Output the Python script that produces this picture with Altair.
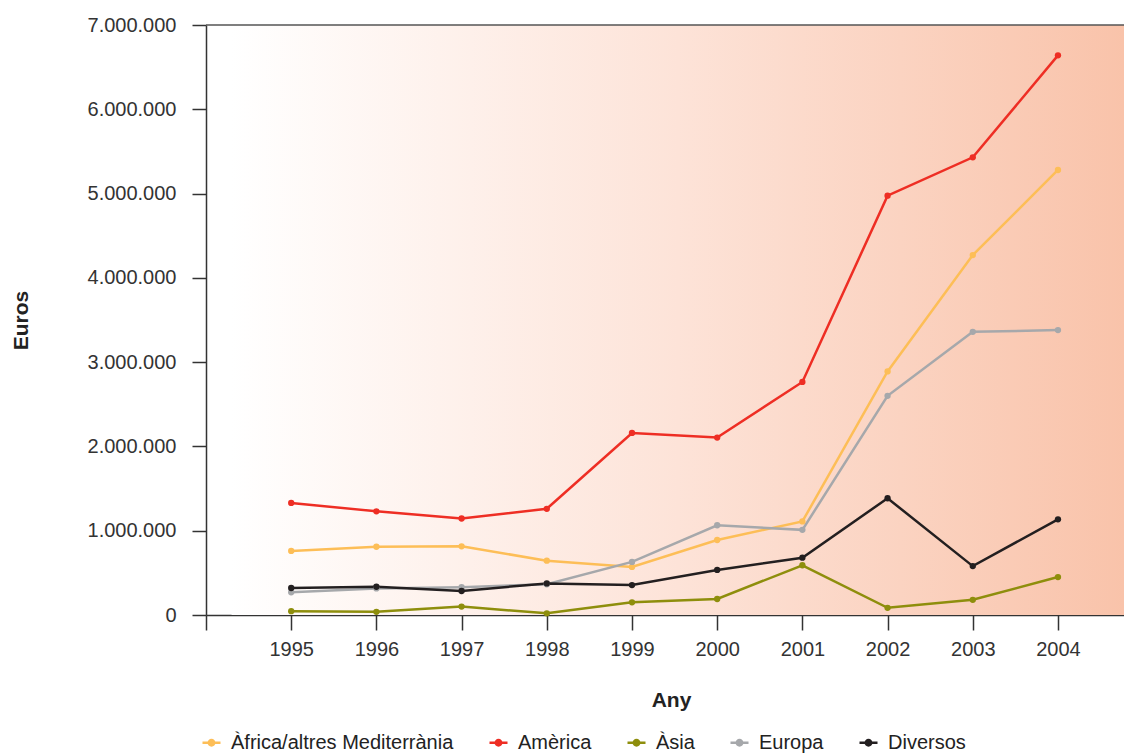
import altair as alt
import pandas as pd

years = [1995, 1996, 1997, 1998, 1999, 2000, 2001, 2002, 2003, 2004]
series = ["Àfrica/altres Mediterrània", "Amèrica", "Àsia", "Europa", "Diversos"]
colors = ["#FDBE57", "#EE2E24", "#8E8E0C", "#A6A8AB", "#231F20"]

africa = [760000, 810000, 815000, 645000, 570000, 890000, 1110000, 2890000, 4270000, 5280000]
america = [1330000, 1230000, 1145000, 1260000, 2160000, 2105000, 2765000, 4975000, 5430000, 6640000]
asia = [45000, 38000, 100000, 20000, 150000, 190000, 590000, 85000, 180000, 450000]
europa = [270000, 315000, 330000, 365000, 630000, 1065000, 1010000, 2600000, 3360000, 3380000]
diversos = [320000, 335000, 285000, 375000, 355000, 535000, 680000, 1385000, 580000, 1135000]

values = [africa, america, asia, europa, diversos]
rows = []
for name, vals in zip(series, values):
    for y, v in zip(years, vals):
        rows.append({"year": y, "value": v, "series": name})
df = pd.DataFrame(rows)

x_ticks = [1994] + years
y_ticks = [0, 1000000, 2000000, 3000000, 4000000, 5000000, 6000000, 7000000]
x_domain = [1994, 2004.775]
y_domain = [0, 7000000]

W, H = 918, 590
FONT = "Liberation Sans"

xscale = alt.Scale(domain=x_domain, nice=False, zero=False)
yscale = alt.Scale(domain=y_domain, nice=False)

xaxis = alt.Axis(
    title="Any", values=x_ticks, format="d",
    labelExpr="datum.value == 1994 ? '' : datum.label",
    tickSize=15, labelPadding=9, titlePadding=30, titleX=465, grid=False,
)
yaxis = alt.Axis(
    title="Euros", values=y_ticks, tickSize=14, labelPadding=16, titlePadding=56, grid=False,
    labelExpr="replace(replace(format(datum.value, ','), ',', '.'), ',', '.')",
)

bg_df = pd.DataFrame({"x0": [1994.3], "x1": [x_domain[1]], "y0": [0], "y1": [7000000]})
bg = alt.Chart(bg_df).mark_rect(
    color=alt.Gradient(
        gradient="linear",
        stops=[
            alt.GradientStop(color="#FFFFFF", offset=0),
            alt.GradientStop(color="#FDE3D8", offset=0.5),
            alt.GradientStop(color="#F9C3AA", offset=1),
        ],
        x1=0, x2=1, y1=0, y2=0,
    )
).encode(
    x=alt.X("x0:Q", scale=xscale, axis=xaxis),
    x2="x1:Q",
    y=alt.Y("y0:Q", scale=yscale, axis=yaxis),
    y2="y1:Q",
)

top_rule = alt.Chart(bg_df).mark_rule(color="#555555", strokeWidth=1.5).encode(
    y=alt.Y("y1:Q", scale=yscale, axis=yaxis),
    x=alt.value(0),
    x2=alt.value(W),
)

legend = alt.Legend(
    title=None, orient="none", direction="horizontal", columns=5,
    legendX=-5, legendY=707,
    symbolType="M-1,0H1M-0.3,0A0.3,0.3,0,1,1,0.3,0A0.3,0.3,0,1,1,-0.3,0",
    symbolSize=324, symbolStrokeWidth=2.5,
    labelFontSize=20, labelColor="#222222", labelFont=FONT, labelOffset=9,
    labelLimit=400, columnPadding=30,
)
cscale = alt.Scale(domain=series, range=colors)

lines = alt.Chart(df).mark_line(strokeWidth=2.5).encode(
    x=alt.X("year:Q", scale=xscale, axis=xaxis),
    y=alt.Y("value:Q", scale=yscale, axis=yaxis),
    color=alt.Color("series:N", scale=cscale, sort=series, legend=legend),
    detail="series:N",
)
points = alt.Chart(df).mark_point(filled=True, size=40, opacity=1).encode(
    x=alt.X("year:Q", scale=xscale, axis=xaxis),
    y=alt.Y("value:Q", scale=yscale, axis=yaxis),
    fill=alt.Fill("series:N", scale=cscale, sort=series, legend=None),
)

chart = alt.layer(bg, top_rule, lines, points).properties(
    width=W, height=H,
    autosize=alt.AutoSizeParams(type="none"),
    padding={"left": 198, "top": 17, "right": 0, "bottom": 139},
).configure_view(stroke=None).configure_axis(
    labelFont=FONT, titleFont=FONT, labelFontSize=20, labelColor="#333333",
    titleFontSize=21, titleFontWeight="bold", titleColor="#222222",
    domainColor="#333333", tickColor="#333333", domainWidth=1.5, tickWidth=1.5,
)

chart.save("out.html", embed_options={"renderer": "svg", "actions": False})
